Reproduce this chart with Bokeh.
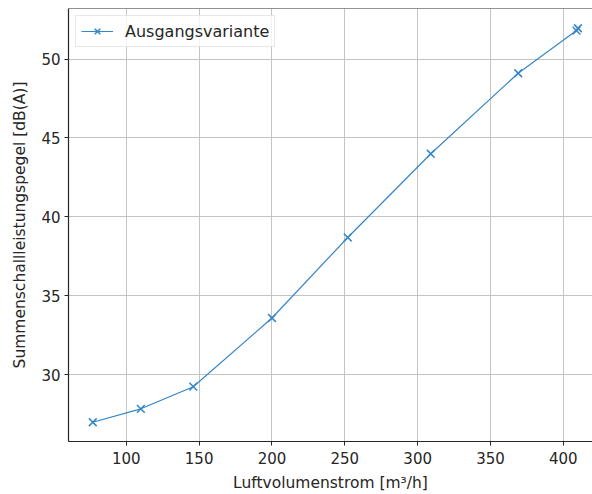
from bokeh.plotting import figure
from bokeh.models import Range1d, FixedTicker, Span, Legend, LegendItem
from bokeh.embed import file_html
from bokeh.resources import INLINE

# Data
volumenstrom = [77, 110, 146, 200, 252, 309, 369, 409, 410]
pegel = [27.0, 27.85, 29.25, 33.6, 38.7, 44.0, 49.1, 51.8, 51.95]
series_name = "Ausgangsvariante"
x_ticks = [100, 150, 200, 250, 300, 350, 400]
y_ticks = [30, 35, 40, 45, 50]

FONT = "DejaVu Sans"
BLUE = "#3586c8"
DARK = "#262626"

p = figure(width=592, height=494, output_backend="svg", toolbar_location=None,
           x_range=Range1d(60.35, 420.0), y_range=Range1d(25.78, 53.2),
           min_border_left=68, min_border_right=0, min_border_top=8, min_border_bottom=53)
p.outline_line_color = None
p.background_fill_color = "white"
p.border_fill_color = "white"

l = p.line(volumenstrom, pegel, line_color=BLUE, line_width=1.2)
s = p.scatter(volumenstrom, pegel, marker="x", size=11, line_color=BLUE, line_width=1.5)

for ax in (p.xaxis[0], p.yaxis[0]):
    ax.axis_line_color = DARK
    ax.axis_line_width = 1.2
    ax.major_tick_line_color = DARK
    ax.major_tick_out = 4
    ax.major_tick_in = 0
    ax.minor_tick_line_color = None
    ax.major_label_text_font = FONT
    ax.major_label_text_font_size = "15px"
    ax.major_label_text_color = DARK
    ax.axis_label_text_font = FONT
    ax.axis_label_text_font_size = "15.5px"
    ax.axis_label_text_font_style = "normal"
    ax.axis_label_text_color = DARK

p.xaxis.ticker = FixedTicker(ticks=x_ticks)
p.yaxis.ticker = FixedTicker(ticks=y_ticks)
p.xaxis.axis_label = "Luftvolumenstrom [m³/h]"
p.yaxis.axis_label = "Summenschallleistungspegel [dB(A)]"
p.xaxis.major_label_standoff = 6
p.yaxis.major_label_standoff = 4
p.xaxis.axis_label_standoff = 7
p.yaxis.axis_label_standoff = 9

p.grid.grid_line_color = "#c4c4c4"
p.grid.grid_line_width = 1.0
p.xgrid.ticker = FixedTicker(ticks=x_ticks)
p.ygrid.ticker = FixedTicker(ticks=y_ticks)

top = Span(location=53.2, dimension="width", line_color=DARK, line_width=1.2)
p.add_layout(top)

legend = Legend(items=[LegendItem(label=series_name, renderers=[l, s])],
                location="top_left", margin=7, padding=5, spacing=0,
                label_text_font=FONT, label_text_font_size="16px", label_text_color=DARK,
                glyph_width=32, glyph_height=20, label_height=20, label_standoff=12,
                border_line_color="#d0d0d0", border_line_width=1,
                background_fill_color="white", background_fill_alpha=0.8)
p.add_layout(legend)

open("out.html", "w").write(file_html(p, INLINE))
